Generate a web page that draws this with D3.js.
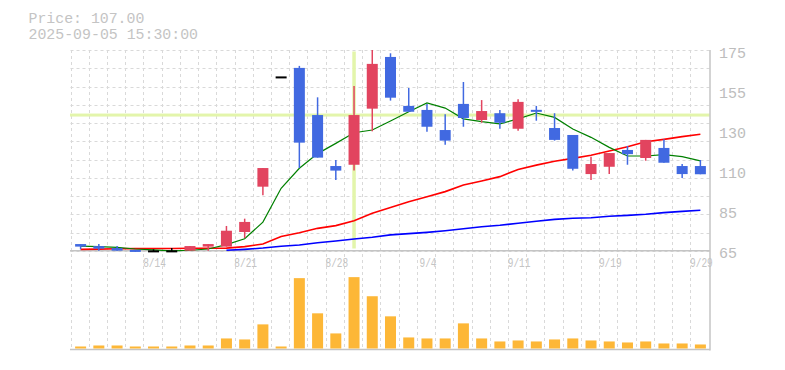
<!DOCTYPE html>
<html><head><meta charset="utf-8">
<script src="https://cdn.jsdelivr.net/npm/d3@7/dist/d3.min.js"></script>
<style>html,body{margin:0;padding:0;background:#fff;} svg{display:block;}</style>
</head><body><svg id="c" width="785" height="370"></svg>
<script>
// ---- data ----
const dates = ["8/7","8/8","8/12","8/13","8/14","8/15","8/18","8/19","8/20","8/21","8/22","8/25","8/26","8/27","8/28","8/29","9/1","9/2","9/3","9/4","9/5","9/8","9/9","9/10","9/11","9/12","9/16","9/17","9/18","9/19","9/22","9/24","9/25","9/26","9/29"];
const xTickLabels = ["8/14","8/21","8/28","9/4","9/11","9/19","9/29"];
const yTickLabels = ["175","155","130","110","85","65"];
const gridValues = [65,75,85,95,105,115,125,135,145,155,165,175];
const open  = [68.8,67.7,66.6,65.6,64.8,64.8,65.2,67.4,67.4,75.4,100.2,160.0,165.2,139.4,111.5,112.2,142.9,171.2,144.4,142.2,131.2,145.5,136.7,140.4,131.9,142.2,132.3,128.5,107.1,111.1,120.3,115.9,121.4,111.5,111.5];
const high  = [68.8,68.8,67.7,65.6,65.9,66.6,67.7,68.8,78.7,82.7,110.4,160.0,166.3,149.1,114.8,155.3,175.0,173.2,154.2,145.5,139.9,157.5,147.6,142.2,148.0,144.4,140.4,128.5,116.6,118.6,122.5,125.8,126.1,112.6,114.8];
const low   = [65.9,65.2,65.2,64.5,64.8,64.8,65.2,65.2,67.4,72.1,95.5,160.0,110.4,116.1,103.9,109.0,130.5,147.3,141.2,130.3,123.2,133.0,135.2,131.9,130.8,136.3,125.4,109.0,103.9,107.1,112.2,114.4,113.3,105.0,107.0];
const close = [67.4,66.3,65.2,64.5,64.8,64.8,67.7,68.8,76.1,80.9,110.4,160.0,124.3,116.1,109.0,139.4,167.4,148.9,141.2,133.0,125.4,137.8,141.6,135.2,146.6,141.2,125.8,110.0,112.6,118.6,118.0,125.8,113.3,107.1,107.0];
const ma5   = [67.7,67.4,67.0,66.1,65.6,65.1,65.4,66.1,68.5,71.7,80.8,99.3,110.3,118.3,123.9,129.7,131.2,136.1,141.2,146.0,143.2,137.3,135.8,134.6,137.3,140.5,138.1,131.8,127.2,121.7,117.0,117.0,117.7,116.6,114.3];
const ma25  = [65.9,66.0,66.2,66.3,66.4,66.4,66.5,66.5,66.6,67.4,68.8,72.9,75.0,77.4,78.9,81.6,85.6,88.8,92.0,94.7,97.5,101.1,103.3,105.7,109.6,112.0,114.1,115.7,117.4,119.7,122.1,124.8,126.1,127.6,128.9];
const ma75  = [null,null,null,null,null,null,null,null,65.4,65.9,66.6,67.6,68.3,69.5,70.5,71.6,72.5,73.8,74.5,75.2,76.1,77.2,78.3,79.1,80.2,81.3,82.3,82.9,83.2,84.0,84.5,85.1,86.0,86.7,87.3];
const volume = [20,30,30,20,20,20,30,30,100,90,240,20,700,350,150,710,520,320,110,100,100,250,100,70,80,70,90,100,80,70,60,70,50,50,40];
const priceText = "Price: 107.00";
const timeText = "2025-09-05 15:30:00";
const crossIndex = 15;

// ---- layout ----
const L = 71.5, R = 709.5, PT = 50, PB = 251, VT = 270, VB = 348.5;
const svg = d3.select("#c");
const x = d3.scaleBand().domain(dates).range([L, R]);
const cx = d => x(d) + x.bandwidth() / 2;
const y = d3.scaleLinear().domain([65, 175]).range([PB, PT]);
const yv = d3.scaleLinear().domain([0, d3.max(volume) * 1.1]).range([VB, VT]);
const yLab = d3.scalePoint().domain(yTickLabels).range([52.8, 252.8]);

const gridColor = "#d9d9d9", axisColor = "#c4c4c4", textColor = "#bdbdbd";
const mono = "'Liberation Mono', 'DejaVu Sans Mono', monospace";

// grid
const g = svg.append("g");
g.selectAll(".hg").data(gridValues).join("line")
  .attr("x1", 70.5).attr("x2", R).attr("y1", d => Math.round(y(d)) + 0.5).attr("y2", d => Math.round(y(d)) + 0.5)
  .attr("stroke", gridColor).attr("stroke-dasharray", "3,3");
g.selectAll(".vg").data(dates).join("line")
  .attr("x1", d => Math.round(x(d)) - 0.5).attr("x2", d => Math.round(x(d)) - 0.5)
  .attr("y1", PT).attr("y2", VB)
  .attr("stroke", gridColor).attr("stroke-dasharray", "3,3");

// crosshair
const chC = "#e3f5ab";
svg.append("rect").attr("x", cx(dates[crossIndex]) - 1.75).attr("width", 3.5)
  .attr("y", 51.5).attr("height", 197).attr("fill", chC);
svg.append("rect").attr("x", 70).attr("width", 640)
  .attr("y", y(close[crossIndex]) - 1.5).attr("height", 3).attr("fill", chC);

// axes
svg.append("line").attr("x1", 710).attr("x2", 710).attr("y1", PT).attr("y2", 350.5).attr("stroke", axisColor).attr("stroke-width", 1.5);
svg.append("line").attr("x1", 70).attr("x2", 710).attr("y1", 250.8).attr("y2", 250.8).attr("stroke", axisColor).attr("stroke-width", 1.5);
svg.append("line").attr("x1", 70).attr("x2", 710).attr("y1", 349.6).attr("y2", 349.6).attr("stroke", axisColor).attr("stroke-width", 1.5);

// MA lines
const line = d3.line().defined(d => d != null).x((d, i) => cx(dates[i])).y(d => y(d));
[[ma75, "#0000ff", 1.6], [ma25, "#ff0000", 1.6], [ma5, "#008000", 1.2]].forEach(([arr, col, w]) => {
  svg.append("path").attr("d", line(arr)).attr("fill", "none").attr("stroke", col).attr("stroke-width", w);
});

// candles
const upC = "#e2445f", dnC = "#4169e1";
const colOf = i => close[i] > open[i] ? upC : (close[i] < open[i] ? dnC : "#000");
const cg = svg.append("g");
dates.forEach((d, i) => {
  const c = colOf(i);
  cg.append("line").attr("x1", cx(d)).attr("x2", cx(d)).attr("y1", y(high[i])).attr("y2", y(low[i]))
    .attr("stroke", c).attr("stroke-width", 1.5);
  const top = y(Math.max(open[i], close[i])), bot = y(Math.min(open[i], close[i]));
  const h = Math.max(2, bot - top);
  cg.append("rect").attr("x", cx(d) - 5.5).attr("width", 11)
    .attr("y", bot - top < 2 ? (top + bot) / 2 - 1 : top).attr("height", h).attr("fill", c);
});

// volume
svg.append("g").selectAll("rect").data(volume).join("rect")
  .attr("x", (v, i) => cx(dates[i]) - 5.5).attr("width", 11)
  .attr("y", v => yv(v)).attr("height", v => VB - yv(v)).attr("fill", "#fdb737");

// y labels
svg.append("g").selectAll("text").data(yTickLabels).join("text")
  .attr("x", 719).attr("y", d => yLab(d) + 5.5).text(d => d)
  .attr("font-family", mono).attr("font-size", 15).attr("fill", textColor);

// x labels
svg.append("g").selectAll("text").data(xTickLabels).join("text")
  .attr("x", d => cx(d) + 1).attr("y", 267).attr("text-anchor", "middle")
  .attr("textLength", d => d.length * 5.8 - 0.5).attr("lengthAdjust", "spacingAndGlyphs")
  .text(d => d).attr("font-family", mono).attr("font-size", 13).attr("fill", "#c4c4c4");

// header text
svg.append("text").attr("x", 28.5).attr("y", 22.5).text(priceText)
  .attr("textLength", priceText.length * 8.95 - 0.5).attr("lengthAdjust", "spacingAndGlyphs")
  .attr("font-family", mono).attr("font-size", 14).attr("fill", "#c4c4c4");
svg.append("text").attr("x", 28.5).attr("y", 38.5).text(timeText)
  .attr("textLength", timeText.length * 8.95 - 0.5).attr("lengthAdjust", "spacingAndGlyphs")
  .attr("font-family", mono).attr("font-size", 14).attr("fill", "#c4c4c4");
</script></body></html>
